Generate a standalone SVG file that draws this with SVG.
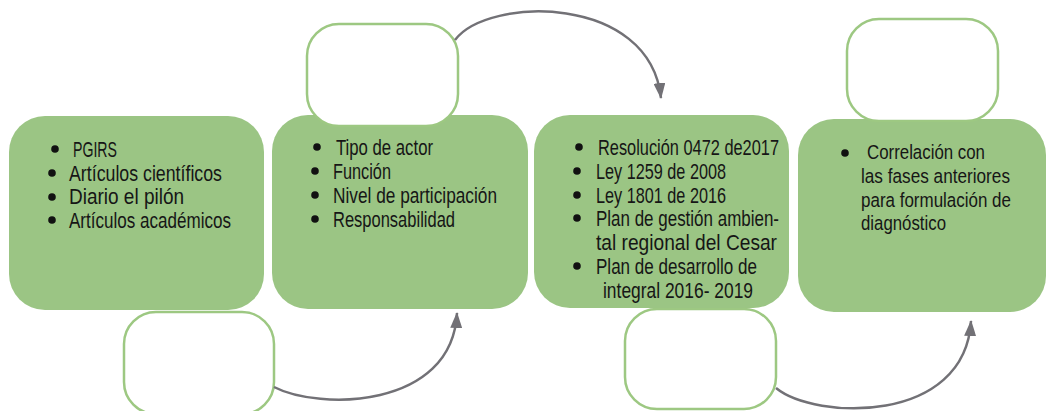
<svg xmlns="http://www.w3.org/2000/svg" width="1048" height="411" viewBox="0 0 1048 411">
<style>
.g{fill:#9bc584;}
.w{fill:#ffffff;stroke:#9dc882;stroke-width:2.5;}
.t{font-family:"Liberation Sans",Arial,sans-serif;font-size:21.5px;fill:#161616;}
#node4 .t{font-size:20.5px;}
.b{fill:#111;}
.c{fill:none;stroke:#727176;stroke-width:2.5;}
</style>
<defs>
<marker id="ah" viewBox="0 0 16 12" refX="15" refY="6" markerWidth="16" markerHeight="12" markerUnits="userSpaceOnUse" orient="auto">
<path d="M0,0 L16,6 L0,12 z" fill="#727176"/>
</marker>
</defs>
<g id="node1">
<rect class="g" x="9" y="116" width="255" height="194" rx="36"/>
<circle class="b" cx="55" cy="149" r="3.8"/>
<circle class="b" cx="52" cy="173" r="3.8"/>
<circle class="b" cx="52" cy="197" r="3.8"/>
<circle class="b" cx="52" cy="220" r="3.8"/>
<text class="t" x="73" y="157" textLength="44" lengthAdjust="spacingAndGlyphs">PGIRS</text>
<text class="t" x="69" y="181" textLength="153" lengthAdjust="spacingAndGlyphs">Artículos científicos</text>
<text class="t" x="69" y="204" textLength="115" lengthAdjust="spacingAndGlyphs">Diario el pilón</text>
<text class="t" x="69" y="228" textLength="162" lengthAdjust="spacingAndGlyphs">Artículos académicos</text>
</g>
<g id="node2">
<rect class="g" x="272" y="115" width="256" height="194" rx="36"/>
<circle class="b" cx="317" cy="147" r="3.8"/>
<circle class="b" cx="315" cy="171" r="3.8"/>
<circle class="b" cx="315" cy="195" r="3.8"/>
<circle class="b" cx="315" cy="219" r="3.8"/>
<text class="t" x="336" y="155" textLength="97" lengthAdjust="spacingAndGlyphs">Tipo de actor</text>
<text class="t" x="333" y="179" textLength="58" lengthAdjust="spacingAndGlyphs">Función</text>
<text class="t" x="333" y="203" textLength="164" lengthAdjust="spacingAndGlyphs">Nivel de participación</text>
<text class="t" x="333" y="227" textLength="122" lengthAdjust="spacingAndGlyphs">Responsabilidad</text>
</g>
<g id="node3">
<rect class="g" x="534" y="115" width="255" height="193" rx="36"/>
<circle class="b" cx="579" cy="147" r="3.8"/>
<circle class="b" cx="577" cy="171" r="3.8"/>
<circle class="b" cx="577" cy="195" r="3.8"/>
<circle class="b" cx="577" cy="218" r="3.8"/>
<circle class="b" cx="577" cy="266" r="3.8"/>
<text class="t" x="598" y="155" textLength="181" lengthAdjust="spacingAndGlyphs">Resolución 0472 de2017</text>
<text class="t" x="596" y="179" textLength="130" lengthAdjust="spacingAndGlyphs">Ley 1259 de 2008</text>
<text class="t" x="596" y="203" textLength="130" lengthAdjust="spacingAndGlyphs">Ley 1801 de 2016</text>
<text class="t" x="596" y="226" textLength="183" lengthAdjust="spacingAndGlyphs">Plan de gestión ambien-</text>
<text class="t" x="596" y="250" textLength="181" lengthAdjust="spacingAndGlyphs">tal regional del Cesar</text>
<text class="t" x="596" y="274" textLength="161" lengthAdjust="spacingAndGlyphs">Plan de desarrollo de</text>
<text class="t" x="603" y="298" textLength="150" lengthAdjust="spacingAndGlyphs">integral 2016- 2019</text>
</g>
<g id="node4">
<rect class="g" x="798" y="119" width="248" height="193" rx="36"/>
<circle class="b" cx="845" cy="153" r="3.8"/>
<text class="t" x="867" y="159" textLength="118" lengthAdjust="spacingAndGlyphs">Correlación con</text>
<text class="t" x="861" y="183" textLength="149" lengthAdjust="spacingAndGlyphs">las fases anteriores</text>
<text class="t" x="861" y="207" textLength="150" lengthAdjust="spacingAndGlyphs">para formulación de</text>
<text class="t" x="861" y="230" textLength="85" lengthAdjust="spacingAndGlyphs">diagnóstico</text>
</g>
<g id="empty1"><rect class="w" x="124" y="312" width="150" height="102" rx="32"/></g>
<g id="empty2"><rect class="w" x="307" y="24" width="151" height="102" rx="32"/></g>
<g id="empty3"><rect class="w" x="625" y="309" width="151" height="100" rx="32"/></g>
<g id="empty4"><rect class="w" x="847" y="19" width="151" height="102" rx="32"/></g>
<g id="connectors">
<path class="c" d="M274,387 C318,410 452,410 457,313" marker-end="url(#ah)"/>
<path class="c" d="M455,40 C488,-4 650,-6 661,98" marker-end="url(#ah)"/>
<path class="c" d="M776,388 C815,420 965,425 971,321" marker-end="url(#ah)"/>
</g>
</svg>
